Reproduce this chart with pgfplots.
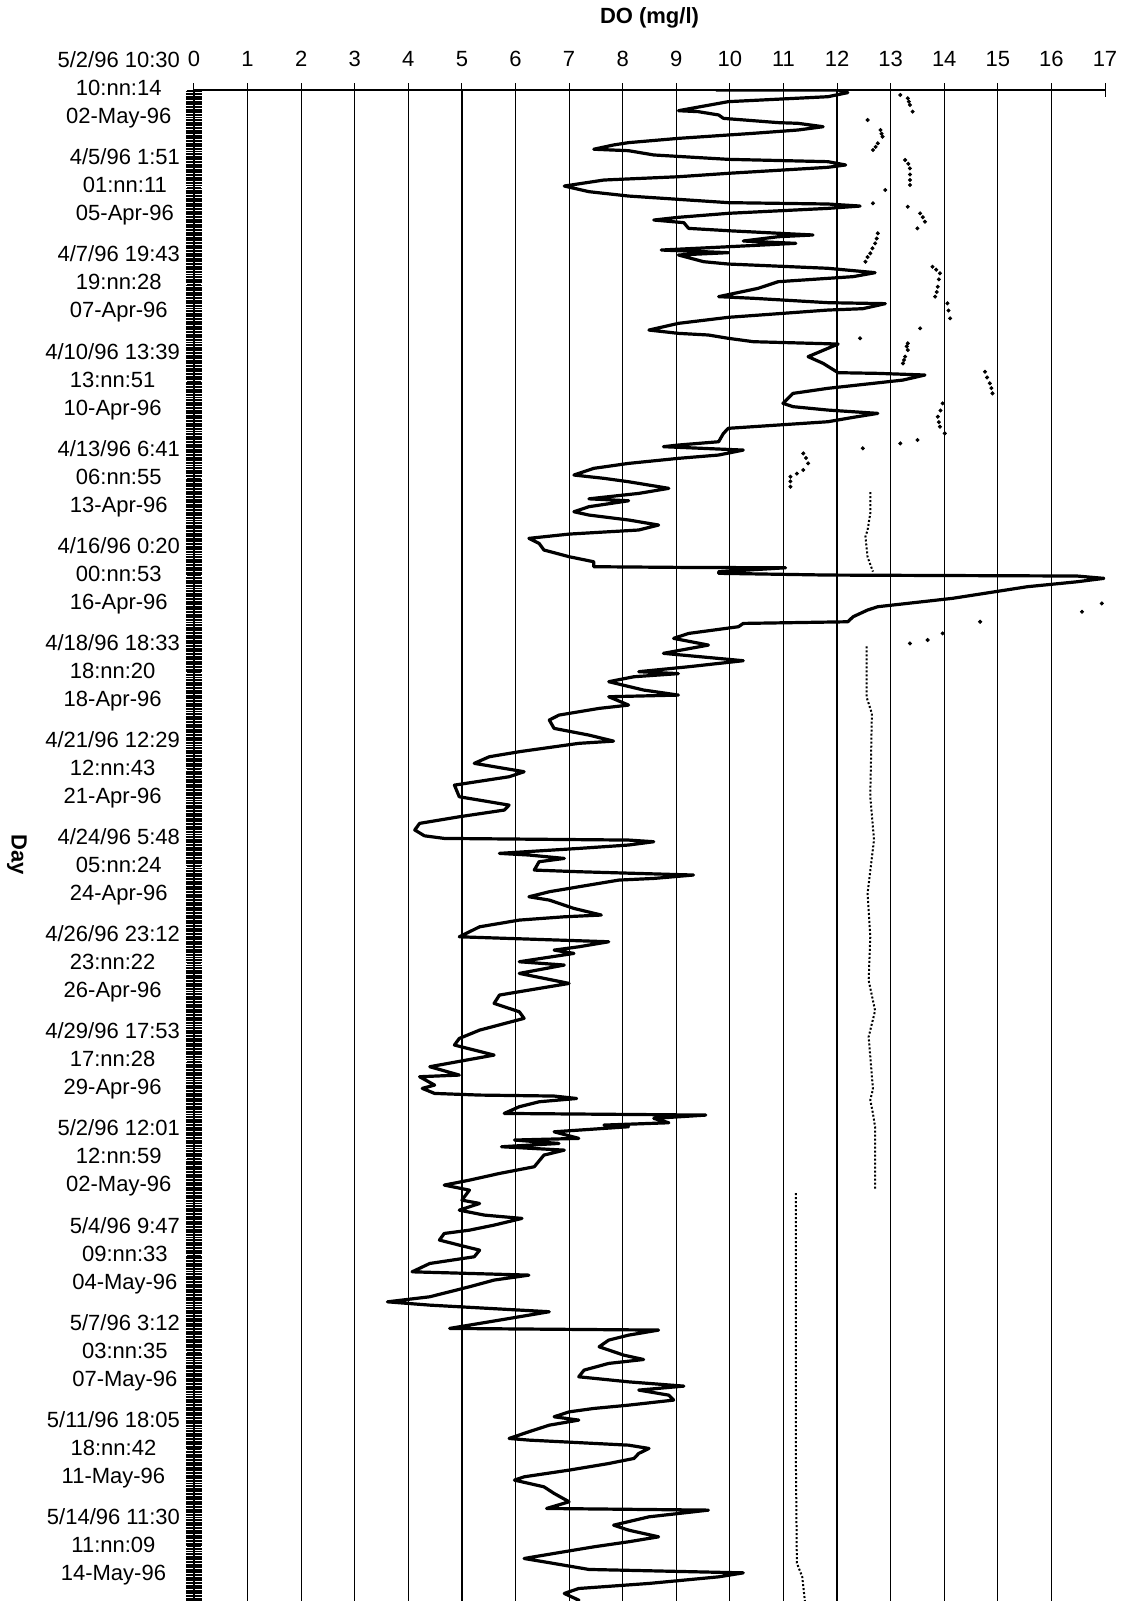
\documentclass[border=0pt]{standalone}
\usepackage{fontspec}
\setmainfont{Liberation Sans}
\usepackage{pgfplots}
\pgfplotsset{compat=1.18}

\begin{document}
\begin{tikzpicture}
\begin{axis}[
  name=ax, at={(0,0)}, anchor=south west,
  scale only axis, width=455.5pt, height=755.5pt,
  xmin=0, xmax=17, ymin=0, ymax=15.56, y dir=reverse,
  axis x line=top, axis y line=left,
  axis line style={-, line width=0.8pt},
  /pgf/number format/assume math mode=true,
  xtick={0,...,17},
  extra x ticks={1,...,16}, extra x tick labels={},
  extra x tick style={grid=major, major tick length=0pt},
  major grid style={black, line width=0.6pt},
  tick align=center, major tick length=7pt, minor tick length=8pt,
  tick style={black, line width=0.5pt},
  ytick={0,...,16}, minor y tick num=59,
  minor y tick style={line width=0.6pt},
  xticklabel style={font=\fontsize{11}{13}\selectfont, yshift=4.5pt},
  yticklabel style={font=\fontsize{11}{14}\selectfont, align=center, anchor=east},
  yticklabels={
    {5/2/96 10:30\\10:nn:14\\02-May-96},
    {4/5/96 1:51\\01:nn:11\\05-Apr-96},
    {4/7/96 19:43\\19:nn:28\\07-Apr-96},
    {4/10/96 13:39\\13:nn:51\\10-Apr-96},
    {4/13/96 6:41\\06:nn:55\\13-Apr-96},
    {4/16/96 0:20\\00:nn:53\\16-Apr-96},
    {4/18/96 18:33\\18:nn:20\\18-Apr-96},
    {4/21/96 12:29\\12:nn:43\\21-Apr-96},
    {4/24/96 5:48\\05:nn:24\\24-Apr-96},
    {4/26/96 23:12\\23:nn:22\\26-Apr-96},
    {4/29/96 17:53\\17:nn:28\\29-Apr-96},
    {5/2/96 12:01\\12:nn:59\\02-May-96},
    {5/4/96 9:47\\09:nn:33\\04-May-96},
    {5/7/96 3:12\\03:nn:35\\07-May-96},
    {5/11/96 18:05\\18:nn:42\\11-May-96},
    {5/14/96 11:30\\11:nn:09\\14-May-96},
    {}},
  xlabel={DO (mg/l)},
  xlabel style={font=\bfseries\fontsize{11}{13}\selectfont, at={(axis description cs:0.5,1.048)}, anchor=center},
  ylabel={Day},
  ylabel style={font=\bfseries\fontsize{11}{13}\selectfont, rotate=180, at={(axis description cs:-0.1943,0.494)}, anchor=center},
  clip=true,
]
% DO trace
\addplot[black, line width=1.6pt, line join=round] coordinates {
(9.74,0.0) (12.02,0.0) (12.20,0.027) (11.83,0.069) (9.97,0.120) (9.04,0.213) (9.41,0.223) (9.79,0.257) (9.88,0.292) (10.90,0.336) (11.27,0.343) (11.74,0.378) (11.27,0.412) (10.44,0.446) (9.04,0.498) (8.11,0.542) (7.83,0.566) (7.46,0.610) (8.11,0.625) (8.58,0.669) (9.97,0.714) (11.83,0.738) (12.16,0.772) (11.83,0.796) (9.97,0.858) (9.04,0.893) (7.65,0.927) (6.91,0.989) (7.37,1.047) (8.11,1.092) (9.97,1.160) (11.83,1.174) (12.43,1.195) (11.83,1.219) (9.97,1.270) (9.04,1.311) (8.58,1.339) (9.14,1.366) (9.23,1.425) (9.97,1.449) (11.55,1.493) (10.90,1.511) (10.25,1.555) (11.23,1.579) (9.97,1.614) (8.72,1.648) (9.97,1.675) (9.04,1.699) (9.51,1.768) (9.97,1.792) (11.83,1.836) (12.71,1.881) (12.30,1.922) (10.90,1.974) (10.53,2.042) (9.79,2.128) (10.44,2.145) (11.83,2.190) (12.90,2.200) (12.48,2.252) (11.83,2.266) (9.97,2.341) (9.04,2.403) (8.49,2.472) (9.04,2.506) (9.60,2.523) (9.97,2.557)
(10.44,2.592) (12.02,2.616) (11.83,2.660) (11.46,2.746) (11.74,2.815) (12.02,2.911) (12.76,2.918) (13.64,2.935) (13.23,2.987) (11.83,3.072) (11.18,3.124) (10.99,3.227) (11.18,3.261) (11.83,3.296) (12.76,3.330) (12.30,3.371) (11.83,3.416) (9.97,3.484) (9.88,3.536) (9.79,3.622) (9.04,3.656) (8.76,3.673) (10.25,3.708) (9.79,3.759) (9.04,3.793) (8.11,3.845) (7.46,3.896) (7.09,3.965) (7.65,3.999) (8.11,4.034) (8.86,4.102) (8.30,4.154) (7.37,4.210) (8.11,4.230) (7.37,4.291) (7.09,4.343) (7.37,4.377) (8.11,4.428) (8.67,4.480) (8.30,4.531) (7.00,4.573) (6.25,4.617) (6.44,4.669) (6.53,4.737) (7.00,4.806) (7.46,4.858) (7.46,4.909) (9.04,4.916) (11.04,4.920) (9.79,4.961) (9.79,4.977) (11.83,4.995) (16.48,5.005) (16.98,5.029) (16.48,5.064) (15.55,5.115)
(14.15,5.235) (12.76,5.321) (12.57,5.355) (12.30,5.424) (12.20,5.476) (10.25,5.493) (10.16,5.527) (9.23,5.596) (8.95,5.647) (9.60,5.716) (8.76,5.801) (10.25,5.877) (9.23,5.939) (8.30,5.990) (9.04,6.010) (8.21,6.042) (7.74,6.093) (8.39,6.179) (9.04,6.231) (7.74,6.248) (8.11,6.334) (7.56,6.368) (6.81,6.437) (6.63,6.488) (6.72,6.574) (7.37,6.643) (7.83,6.705) (7.18,6.728) (6.07,6.814) (5.51,6.866) (5.23,6.934) (6.16,7.020) (5.88,7.072) (4.86,7.158) (4.95,7.278) (5.88,7.364) (5.79,7.415) (4.95,7.484) (4.21,7.552) (4.12,7.620) (4.30,7.680) (4.67,7.707) (8.11,7.724) (8.58,7.741)
(8.11,7.775) (7.18,7.810) (5.70,7.861) (6.25,7.878) (6.91,7.913) (6.44,7.947) (6.35,8.033) (7.18,8.050) (9.32,8.084) (8.58,8.119) (7.93,8.136) (7.18,8.205) (6.63,8.256) (6.25,8.308) (6.63,8.342) (7.09,8.428) (7.60,8.496) (6.91,8.514) (6.07,8.548) (5.33,8.617) (4.95,8.720) (7.74,8.771) (7.18,8.823) (6.72,8.857) (7.09,8.891) (6.07,8.977) (6.91,9.011) (6.07,9.097) (7.00,9.200) (6.25,9.269) (5.70,9.320) (5.60,9.406) (6.07,9.492) (6.16,9.560) (5.33,9.681) (4.95,9.767) (4.86,9.835) (5.60,9.938) (4.40,10.058) (4.95,10.144) (4.21,10.161)
(4.49,10.247) (4.26,10.281) (4.49,10.333) (5.33,10.350) (6.72,10.360) (7.14,10.385) (6.44,10.419) (6.07,10.470) (5.79,10.539) (9.55,10.556) (8.58,10.590) (8.86,10.635) (7.65,10.659) (8.11,10.676) (6.72,10.728) (7.18,10.796) (5.98,10.813) (6.81,10.848) (5.74,10.882) (6.91,10.917) (6.53,10.968) (6.35,11.088) (5.70,11.157) (5.14,11.226) (4.67,11.277) (5.14,11.329) (5.00,11.432) (5.33,11.466) (4.95,11.535) (5.42,11.586) (6.12,11.620) (5.60,11.689) (5.14,11.741) (4.67,11.775) (4.58,11.843) (4.95,11.895) (5.33,11.947) (5.23,12.015) (4.40,12.084) (4.07,12.170) (6.25,12.204) (5.60,12.255) (5.14,12.324) (4.40,12.427) (3.61,12.479) (4.40,12.513) (6.63,12.581) (6.07,12.633) (4.77,12.753) (8.67,12.770)
(8.11,12.822) (7.74,12.873) (7.56,12.942) (8.02,13.028) (8.39,13.073) (7.74,13.113) (7.28,13.182) (7.18,13.251) (8.11,13.303) (9.14,13.347) (8.30,13.388) (8.86,13.440) (8.95,13.491) (8.11,13.543) (7.46,13.577) (7.00,13.612) (6.72,13.663) (7.18,13.697) (6.63,13.749) (6.25,13.817) (5.88,13.886) (6.25,13.903) (8.11,13.955) (8.49,13.989) (8.30,14.040) (8.21,14.092) (7.74,14.144) (7.00,14.212) (6.16,14.281) (5.98,14.315) (6.53,14.384) (6.72,14.452) (7.00,14.538) (6.58,14.607) (9.60,14.624) (8.49,14.693) (7.83,14.779) (8.11,14.830) (8.67,14.899) (8.11,14.950) (7.46,15.002) (6.72,15.070) (6.16,15.122) (6.53,15.156) (7.37,15.235) (10.25,15.270) (9.79,15.311) (8.49,15.379) (7.18,15.431) (6.91,15.482) (7.18,15.551) (7.10,15.600)
};
% second probe: scattered readings
\addplot[only marks, mark=*, mark size=0.8pt, black] coordinates {
(13.18,0.051) (13.32,0.086) (13.34,0.120) (13.36,0.154) (13.41,0.223)
(12.57,0.309) (12.81,0.412) (12.83,0.450) (12.85,0.481) (12.76,0.549) (12.72,0.585) (12.67,0.618)
(13.27,0.721) (13.33,0.760) (13.36,0.807) (13.36,0.870) (13.36,0.927) (13.36,0.978) (12.90,1.030)
(12.67,1.167) (13.32,1.202) (13.55,1.270) (13.60,1.310) (13.64,1.356) (13.50,1.425)
(12.76,1.476) (12.74,1.530) (12.71,1.579) (12.66,1.630) (12.62,1.682) (12.57,1.720) (12.53,1.768)
(13.78,1.820) (13.85,1.850) (13.92,1.888) (13.90,1.950) (13.88,2.026) (13.86,2.080) (13.83,2.128) (14.06,2.197) (14.08,2.270) (14.11,2.351) (13.55,2.454) (12.43,2.557)
(13.32,2.609) (13.30,2.640) (13.32,2.678) (13.27,2.746) (13.25,2.780) (13.23,2.815)
(14.76,2.901) (14.80,2.960) (14.85,3.021) (14.88,3.070) (14.90,3.124)
(13.97,3.227) (13.93,3.300) (13.88,3.364) (13.90,3.420) (13.92,3.467) (14.01,3.536)
(13.50,3.604) (13.18,3.639) (12.48,3.690)
(11.37,3.742) (11.42,3.790) (11.46,3.845) (11.37,3.913) (11.25,3.950) (11.13,3.982) (11.13,4.030) (11.13,4.085)
(16.94,5.287) (16.57,5.373) (14.67,5.476) (13.97,5.596) (13.69,5.664) (13.36,5.699)
};
% second probe: continuous dotted runs
\addplot[black, densely dotted, line width=1pt] coordinates {
(12.62,4.14) (12.62,4.36) (12.57,4.53) (12.53,4.60) (12.57,4.81) (12.67,4.96)
};
\addplot[black, densely dotted, line width=1pt] coordinates {
(12.55,5.73) (12.55,6.25) (12.65,6.42) (12.62,7.28) (12.69,7.72) (12.57,8.27) (12.62,8.72) (12.59,9.17) (12.71,9.48) (12.59,9.75) (12.67,10.29) (12.62,10.40) (12.67,10.54) (12.71,10.68) (12.71,11.33)
};
\addplot[black, densely dotted, line width=1pt] coordinates {
(11.23,11.36) (11.23,12.87) (11.23,14.00) (11.25,15.17) (11.35,15.31) (11.40,15.56)
};
\end{axis}
\pgfresetboundingbox
\path (-97pt,0pt) rectangle (464.5pt,800.5pt);
\end{tikzpicture}
\end{document}
